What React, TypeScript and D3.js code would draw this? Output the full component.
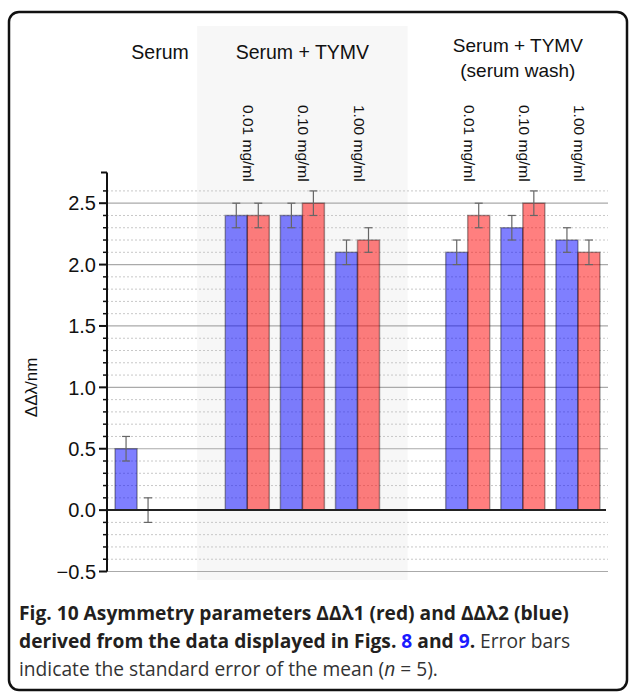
import * as d3 from "d3";
import React from "react";

// slots along x: two empty spacer slots separate the three groups
const slots = ["serum", "gap1", "t001", "t010", "t100", "gap2", "w001", "w010", "w100"];
const doseLabels: Record<string, string> = {
  t001: "0.01 mg/ml",
  t010: "0.10 mg/ml",
  t100: "1.00 mg/ml",
  w001: "0.01 mg/ml",
  w010: "0.10 mg/ml",
  w100: "1.00 mg/ml",
};
const barSlots = ["serum", "t001", "t010", "t100", "w001", "w010", "w100"];
const blueValues = [0.5, 2.4, 2.4, 2.1, 2.1, 2.3, 2.2]; // ΔΔλ2
const redValues = [0.0, 2.4, 2.5, 2.2, 2.4, 2.5, 2.1]; // ΔΔλ1
const blueErr = [0.1, 0.1, 0.1, 0.1, 0.1, 0.1, 0.1];
const redErr = [0.1, 0.1, 0.1, 0.1, 0.1, 0.1, 0.1];
const majorTicks = [-0.5, 0, 0.5, 1.0, 1.5, 2.0, 2.5];

const W = 629;
const H = 693;
const FONT = "'Liberation Sans', Arial, Helvetica, sans-serif";

export default function App() {
  const x = d3.scaleBand<string>().domain(slots).range([109.5, 605.5]).padding(0);
  const y = d3.scaleLinear().domain([-0.5, 2.75]).range([571.5, 172.5]);
  const barW = 22;
  const axisX = 107;
  const gridEnd = 608;

  const minor = d3.range(-5, 27).map((d) => d / 10).filter((v) => Math.abs(v * 2 - Math.round(v * 2)) > 1e-6);

  const cx = (s: string) => (x(s) ?? 0) + x.bandwidth() / 2;

  const bars = barSlots.flatMap((s, i) => [
    { s, v: blueValues[i], e: blueErr[i], c: "rgba(0,0,255,0.5)", off: -barW / 2 },
    { s, v: redValues[i], e: redErr[i], c: "rgba(255,0,0,0.5)", off: barW / 2 },
  ]);

  const bandX0 = cx("gap1") + 5;
  const bandX1 = cx("gap2") - 5;

  return (
    <svg width={W} height={H} style={{ position: "absolute", left: 0, top: 0 }} fontFamily={FONT}>
      <rect x={0} y={0} width={W} height={H} fill="#fff" />
      <rect x={bandX0} y={26} width={bandX1 - bandX0} height={554} fill="#f7f7f7" />

      {/* gridlines */}
      {minor.map((v) => (
        <line key={"m" + v} x1={axisX} x2={gridEnd} y1={y(v)} y2={y(v)} stroke="#c8c8c8" strokeWidth={1} strokeDasharray="2,2" />
      ))}
      {majorTicks.filter((v) => v !== 0).map((v) => (
        <line key={"g" + v} x1={axisX} x2={gridEnd} y1={y(v)} y2={y(v)} stroke="#aaa" strokeWidth={1.2} />
      ))}

      {/* bars */}
      {bars.map((b, i) => (
        <rect
          key={"b" + i}
          x={cx(b.s) + b.off - barW / 2}
          y={Math.min(y(b.v), y(0))}
          width={barW}
          height={Math.abs(y(0) - y(b.v))}
          fill={b.c}
          stroke="rgba(0,0,0,0.35)"
          strokeWidth={1.5}
        />
      ))}
      {/* error bars */}
      {bars.map((b, i) => {
        const px = cx(b.s) + b.off;
        return (
          <g key={"e" + i} stroke="#666" strokeWidth={1.2}>
            <line x1={px} x2={px} y1={y(b.v + b.e)} y2={y(b.v - b.e)} />
            <line x1={px - 4} x2={px + 4} y1={y(b.v + b.e)} y2={y(b.v + b.e)} />
            <line x1={px - 4} x2={px + 4} y1={y(b.v - b.e)} y2={y(b.v - b.e)} />
          </g>
        );
      })}

      {/* zero line */}
      <line x1={axisX} x2={606} y1={y(0)} y2={y(0)} stroke="#222" strokeWidth={2} />

      {/* y axis */}
      <line x1={axisX} x2={axisX} y1={y(2.75)} y2={y(-0.5)} stroke="#111" strokeWidth={2} />
      <line x1={axisX - 6} x2={axisX} y1={y(2.75)} y2={y(2.75)} stroke="#111" strokeWidth={2} />
      {minor.map((v) => (
        <line key={"mt" + v} x1={axisX - 4} x2={axisX} y1={y(v)} y2={y(v)} stroke="#111" strokeWidth={1.5} />
      ))}
      {majorTicks.map((v) => (
        <g key={"t" + v}>
          <line x1={axisX - 8} x2={axisX} y1={y(v)} y2={y(v)} stroke="#111" strokeWidth={2} />
          <text x={axisX - 11} y={y(v)} dy="0.36em" textAnchor="end" fontSize={20} fill="#111">
            {v < 0 ? "\u2212" + Math.abs(v).toFixed(1) : v.toFixed(1)}
          </text>
        </g>
      ))}
      <text transform={`translate(37,${y(1.0)}) rotate(-90)`} textAnchor="middle" fontSize={17} fill="#111">
        ΔΔλ/nm
      </text>

      {/* group headers */}
      <text x={cx("serum") + 23} y={59} textAnchor="middle" fontSize={19.5} fill="#111">Serum</text>
      <text x={cx("t010")} y={59} textAnchor="middle" fontSize={19.5} fill="#111">Serum + TYMV</text>
      <text x={cx("w010") - 5} y={52} textAnchor="middle" fontSize={19} fill="#111">Serum + TYMV</text>
      <text x={cx("w010") - 5} y={77} textAnchor="middle" fontSize={19} fill="#111">(serum wash)</text>

      {/* dose labels */}
      {Object.entries(doseLabels).map(([s, t]) => (
        <text key={"d" + s} transform={`translate(${cx(s) - 4},105) rotate(90)`} fontSize={15.5} fill="#111">
          {t}
        </text>
      ))}

      {/* frame */}
      <rect x={9} y={12} width={618} height={678} rx={10} fill="none" stroke="#111" strokeWidth={2.5} />

      {/* caption */}
      <g fontFamily="'Open Sans', 'Noto Sans', sans-serif" fontSize={19.2} fill="#231f20">
        <text x={19} y={620} fontWeight="bold">
          Fig. 10 Asymmetry parameters ΔΔλ1 (red) and ΔΔλ2 (blue)
        </text>
        <text x={19} y={648}>
          <tspan fontWeight="bold">derived from the data displayed in Figs. </tspan>
          <tspan fontWeight="bold" fill="#1a1aff">8</tspan>
          <tspan fontWeight="bold"> and </tspan>
          <tspan fontWeight="bold" fill="#1a1aff">9</tspan>
          <tspan fontWeight="bold">.</tspan>
          <tspan fill="#333"> Error bars</tspan>
        </text>
        <text x={19} y={676} fill="#333">
          indicate the standard error of the mean (<tspan fontStyle="italic">n</tspan> = 5).
        </text>
      </g>
    </svg>
  );
}
